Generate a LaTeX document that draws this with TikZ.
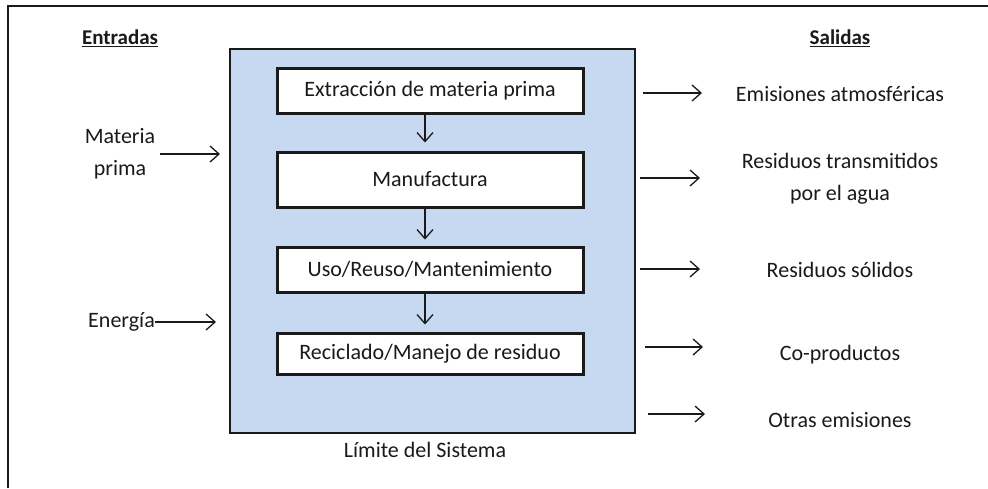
\documentclass[tikz,border=0pt]{standalone}
\usepackage{fontspec}
\setmainfont{Carlito}
\usetikzlibrary{arrows.meta}
\definecolor{sysblue}{HTML}{C6D9F1}
\definecolor{ink}{HTML}{1A1A1A}
\tikzset{
  stepbox/.style={draw=ink, fill=white, line width=3pt, minimum width=306pt, inner sep=0pt},
  lbl/.style={text=ink, font=\fontsize{22}{32}\selectfont, align=center, inner sep=0pt},
  flow/.style={draw=ink, line width=1.3pt, -{Straight Barb[length=9pt,width=16pt,line width=1.3pt]}},
}
\begin{document}
\begin{tikzpicture}[x=1pt,y=-1pt]
\useasboundingbox (0,0) rectangle (988,488);
\fill[white] (0,0) rectangle (988,488);
% outer frame
\draw[ink, line width=1.2pt] (8,488) -- (8,6) -- (988,6);
% system boundary
\node[draw=ink, fill=sysblue, line width=2.6pt, minimum width=405pt, minimum height=384pt, inner sep=0pt] (sys) at (432.5,241) {};
% steps
\node[stepbox, minimum height=45pt] (b1) at (430,90.5) {};
\node[lbl] at (b1) {Extracción de materia prima};
\node[stepbox, minimum height=55pt] (b2) at (430,179.5) {};
\node[lbl] at (b2) {Manufactura};
\node[stepbox, minimum height=45pt] (b3) at (430,269.5) {};
\node[lbl] at (b3) {Uso/Reuso/Mantenimiento};
\node[stepbox, minimum height=41pt] (b4) at (430,353.5) {};
\node[lbl] at (b4) {Reciclado/Manejo de residuo};
\draw[flow, shorten >=8pt] ([xshift=-5pt]b1.south) -- ([xshift=-5pt]b2.north);
\draw[flow, shorten >=6pt] ([xshift=-5pt]b2.south) -- ([xshift=-5pt]b3.north);
\draw[flow, shorten >=7pt] ([xshift=-5pt]b3.south) -- ([xshift=-5pt]b4.north);
\node[lbl] (lim) at (425,450) {Límite del Sistema};
% inputs
\node[lbl, font=\fontsize{21}{30}\selectfont\bfseries] (ent) at (120,38) {\underline{Entradas}};
\node[lbl] (mp) at (120,154) {Materia\\prima};
\node[lbl, anchor=east] (en) at (155,322) {Energía};
\coordinate (mpA) at (160,154);
\coordinate (mpB) at (220,154);
\coordinate (enB) at (216,322);
\draw[flow] (mpA) -- (mpB);
\draw[flow] (en.east) -- (enB);
% outputs
\node[lbl, font=\fontsize{21}{30}\selectfont\bfseries] (sal) at (840,38) {\underline{Salidas}};
\node[lbl] (o1) at (840,94) {Emisiones atmosféricas};
\node[lbl] (o2) at (840,179) {Residuos transmitidos\\por el agua};
\node[lbl] (o3) at (840,270) {Residuos sólidos};
\node[lbl] (o4) at (840,355) {Co-productos};
\node[lbl] (o5) at (840,420) {Otras emisiones};
\coordinate (a1) at (643,93);  \coordinate (c1) at (702,93);
\coordinate (a2) at (640,178); \coordinate (c2) at (700,178);
\coordinate (a3) at (640,269); \coordinate (c3) at (700,269);
\coordinate (a4) at (645,347); \coordinate (c4) at (703,347);
\coordinate (a5) at (648,414); \coordinate (c5) at (705,414);
\foreach \i in {1,...,5} \draw[flow] (a\i) -- (c\i);
\end{tikzpicture}
\end{document}
